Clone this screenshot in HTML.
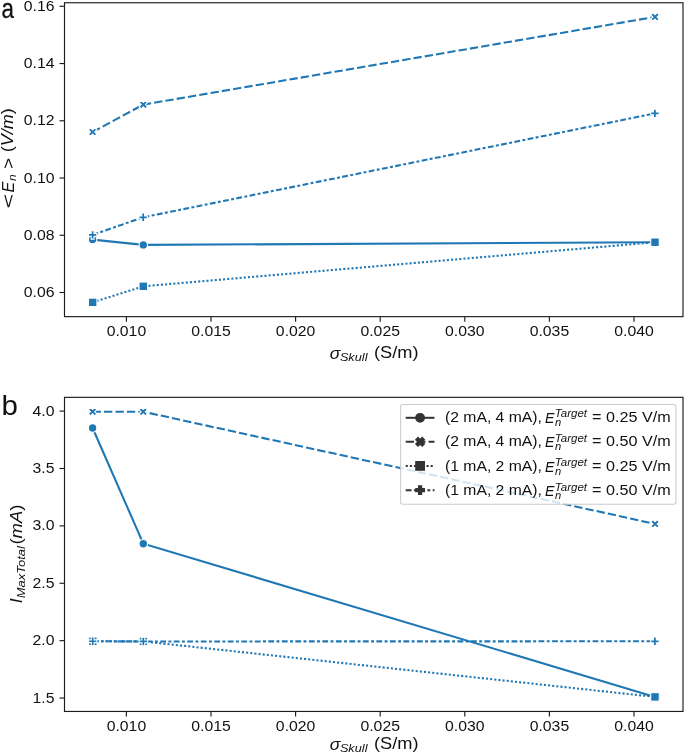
<!DOCTYPE html>
<html><head><meta charset="utf-8"><title>chart</title>
<style>html,body{margin:0;padding:0;background:#fff;overflow:hidden;}svg{display:block;will-change:transform;}</style>
</head><body>
<svg width="685" height="754" viewBox="0 0 685 754" font-family='"Liberation Sans", sans-serif' fill="#111111">
<defs><clipPath id="c1"><rect x="64.50" y="2.75" width="618.50" height="313.90"/></clipPath><clipPath id="c2"><rect x="64.50" y="397.35" width="618.50" height="314.10"/></clipPath></defs>
<rect width="685" height="754" fill="#fff"/>
<line x1="126.40" y1="316.65" x2="126.40" y2="321.65" stroke="#1c1c1c" stroke-width="1.15"/>
<line x1="211.00" y1="316.65" x2="211.00" y2="321.65" stroke="#1c1c1c" stroke-width="1.15"/>
<line x1="295.60" y1="316.65" x2="295.60" y2="321.65" stroke="#1c1c1c" stroke-width="1.15"/>
<line x1="380.20" y1="316.65" x2="380.20" y2="321.65" stroke="#1c1c1c" stroke-width="1.15"/>
<line x1="464.80" y1="316.65" x2="464.80" y2="321.65" stroke="#1c1c1c" stroke-width="1.15"/>
<line x1="549.40" y1="316.65" x2="549.40" y2="321.65" stroke="#1c1c1c" stroke-width="1.15"/>
<line x1="634.00" y1="316.65" x2="634.00" y2="321.65" stroke="#1c1c1c" stroke-width="1.15"/>
<line x1="59.50" y1="292.50" x2="64.50" y2="292.50" stroke="#1c1c1c" stroke-width="1.15"/>
<line x1="59.50" y1="235.26" x2="64.50" y2="235.26" stroke="#1c1c1c" stroke-width="1.15"/>
<line x1="59.50" y1="178.02" x2="64.50" y2="178.02" stroke="#1c1c1c" stroke-width="1.15"/>
<line x1="59.50" y1="120.78" x2="64.50" y2="120.78" stroke="#1c1c1c" stroke-width="1.15"/>
<line x1="59.50" y1="63.54" x2="64.50" y2="63.54" stroke="#1c1c1c" stroke-width="1.15"/>
<line x1="59.50" y1="6.30" x2="64.50" y2="6.30" stroke="#1c1c1c" stroke-width="1.15"/>
<line x1="126.40" y1="711.45" x2="126.40" y2="716.45" stroke="#1c1c1c" stroke-width="1.15"/>
<line x1="211.00" y1="711.45" x2="211.00" y2="716.45" stroke="#1c1c1c" stroke-width="1.15"/>
<line x1="295.60" y1="711.45" x2="295.60" y2="716.45" stroke="#1c1c1c" stroke-width="1.15"/>
<line x1="380.20" y1="711.45" x2="380.20" y2="716.45" stroke="#1c1c1c" stroke-width="1.15"/>
<line x1="464.80" y1="711.45" x2="464.80" y2="716.45" stroke="#1c1c1c" stroke-width="1.15"/>
<line x1="549.40" y1="711.45" x2="549.40" y2="716.45" stroke="#1c1c1c" stroke-width="1.15"/>
<line x1="634.00" y1="711.45" x2="634.00" y2="716.45" stroke="#1c1c1c" stroke-width="1.15"/>
<line x1="59.50" y1="698.05" x2="64.50" y2="698.05" stroke="#1c1c1c" stroke-width="1.15"/>
<line x1="59.50" y1="640.66" x2="64.50" y2="640.66" stroke="#1c1c1c" stroke-width="1.15"/>
<line x1="59.50" y1="583.27" x2="64.50" y2="583.27" stroke="#1c1c1c" stroke-width="1.15"/>
<line x1="59.50" y1="525.88" x2="64.50" y2="525.88" stroke="#1c1c1c" stroke-width="1.15"/>
<line x1="59.50" y1="468.49" x2="64.50" y2="468.49" stroke="#1c1c1c" stroke-width="1.15"/>
<line x1="59.50" y1="411.10" x2="64.50" y2="411.10" stroke="#1c1c1c" stroke-width="1.15"/>
<text transform="translate(126.40,336.02) scale(1.0748,1)" text-anchor="middle" font-size="14.70">0.010</text>
<text transform="translate(211.00,336.02) scale(1.0748,1)" text-anchor="middle" font-size="14.70">0.015</text>
<text transform="translate(295.60,336.02) scale(1.0748,1)" text-anchor="middle" font-size="14.70">0.020</text>
<text transform="translate(380.20,336.02) scale(1.0748,1)" text-anchor="middle" font-size="14.70">0.025</text>
<text transform="translate(464.80,336.02) scale(1.0748,1)" text-anchor="middle" font-size="14.70">0.030</text>
<text transform="translate(549.40,336.02) scale(1.0748,1)" text-anchor="middle" font-size="14.70">0.035</text>
<text transform="translate(634.00,336.02) scale(1.0748,1)" text-anchor="middle" font-size="14.70">0.040</text>
<text transform="translate(126.40,730.52) scale(1.0748,1)" text-anchor="middle" font-size="14.70">0.010</text>
<text transform="translate(211.00,730.52) scale(1.0748,1)" text-anchor="middle" font-size="14.70">0.015</text>
<text transform="translate(295.60,730.52) scale(1.0748,1)" text-anchor="middle" font-size="14.70">0.020</text>
<text transform="translate(380.20,730.52) scale(1.0748,1)" text-anchor="middle" font-size="14.70">0.025</text>
<text transform="translate(464.80,730.52) scale(1.0748,1)" text-anchor="middle" font-size="14.70">0.030</text>
<text transform="translate(549.40,730.52) scale(1.0748,1)" text-anchor="middle" font-size="14.70">0.035</text>
<text transform="translate(634.00,730.52) scale(1.0748,1)" text-anchor="middle" font-size="14.70">0.040</text>
<text transform="translate(54.50,297.07) scale(1.0748,1)" text-anchor="end" font-size="14.70">0.06</text>
<text transform="translate(54.50,239.83) scale(1.0748,1)" text-anchor="end" font-size="14.70">0.08</text>
<text transform="translate(54.50,182.59) scale(1.0748,1)" text-anchor="end" font-size="14.70">0.10</text>
<text transform="translate(54.50,125.35) scale(1.0748,1)" text-anchor="end" font-size="14.70">0.12</text>
<text transform="translate(54.50,68.11) scale(1.0748,1)" text-anchor="end" font-size="14.70">0.14</text>
<text transform="translate(54.50,10.87) scale(1.0748,1)" text-anchor="end" font-size="14.70">0.16</text>
<text transform="translate(54.50,702.62) scale(1.0748,1)" text-anchor="end" font-size="14.70">1.5</text>
<text transform="translate(54.50,645.23) scale(1.0748,1)" text-anchor="end" font-size="14.70">2.0</text>
<text transform="translate(54.50,587.84) scale(1.0748,1)" text-anchor="end" font-size="14.70">2.5</text>
<text transform="translate(54.50,530.45) scale(1.0748,1)" text-anchor="end" font-size="14.70">3.0</text>
<text transform="translate(54.50,473.06) scale(1.0748,1)" text-anchor="end" font-size="14.70">3.5</text>
<text transform="translate(54.50,415.67) scale(1.0748,1)" text-anchor="end" font-size="14.70">4.0</text>
<g clip-path="url(#c1)"><path d="M92.60,239.60 L143.30,244.90 L655.00,242.30" fill="none" stroke="#1f77b4" stroke-width="2.08"/>
<circle cx="92.60" cy="239.60" r="4.25" fill="#1f77b4" stroke="#fff" stroke-width="1.10"/>
<circle cx="143.30" cy="244.90" r="4.25" fill="#1f77b4" stroke="#fff" stroke-width="1.10"/>
<circle cx="655.00" cy="242.30" r="4.25" fill="#1f77b4" stroke="#fff" stroke-width="1.10"/>
<path d="M92.60,132.00 L143.30,104.60 L655.00,16.90" fill="none" stroke="#1f77b4" stroke-width="2.08" stroke-dasharray="8.32,3.12"/>
<path d="M90.47,127.75 L92.60,129.88 L94.72,127.75 L96.85,129.88 L94.72,132.00 L96.85,134.12 L94.72,136.25 L92.60,134.12 L90.47,136.25 L88.35,134.12 L90.47,132.00 L88.35,129.88 Z" fill="#1f77b4" stroke="#fff" stroke-width="1.10" stroke-linejoin="miter"/>
<path d="M141.18,100.35 L143.30,102.47 L145.43,100.35 L147.55,102.47 L145.43,104.60 L147.55,106.72 L145.43,108.85 L143.30,106.72 L141.18,108.85 L139.05,106.72 L141.18,104.60 L139.05,102.47 Z" fill="#1f77b4" stroke="#fff" stroke-width="1.10" stroke-linejoin="miter"/>
<path d="M652.88,12.65 L655.00,14.77 L657.12,12.65 L659.25,14.77 L657.12,16.90 L659.25,19.02 L657.12,21.15 L655.00,19.02 L652.88,21.15 L650.75,19.02 L652.88,16.90 L650.75,14.77 Z" fill="#1f77b4" stroke="#fff" stroke-width="1.10" stroke-linejoin="miter"/>
<path d="M92.70,302.35 L143.30,286.30 L655.00,242.25" fill="none" stroke="#1f77b4" stroke-width="2.08" stroke-dasharray="2.08,2.08"/>
<rect x="88.45" y="298.10" width="8.50" height="8.50" fill="#1f77b4" stroke="#fff" stroke-width="1.10"/>
<rect x="139.05" y="282.05" width="8.50" height="8.50" fill="#1f77b4" stroke="#fff" stroke-width="1.10"/>
<rect x="650.75" y="238.00" width="8.50" height="8.50" fill="#1f77b4" stroke="#fff" stroke-width="1.10"/>
<path d="M92.60,234.90 L143.20,217.30 L654.90,113.40" fill="none" stroke="#1f77b4" stroke-width="2.08" stroke-dasharray="5.79,2.41,2.90,2.41"/>
<path d="M91.18,230.65 L94.02,230.65 L94.02,233.48 L96.85,233.48 L96.85,236.32 L94.02,236.32 L94.02,239.15 L91.18,239.15 L91.18,236.32 L88.35,236.32 L88.35,233.48 L91.18,233.48 Z" fill="#1f77b4" stroke="#fff" stroke-width="1.10" stroke-linejoin="miter"/>
<path d="M141.78,213.05 L144.62,213.05 L144.62,215.88 L147.45,215.88 L147.45,218.72 L144.62,218.72 L144.62,221.55 L141.78,221.55 L141.78,218.72 L138.95,218.72 L138.95,215.88 L141.78,215.88 Z" fill="#1f77b4" stroke="#fff" stroke-width="1.10" stroke-linejoin="miter"/>
<path d="M653.48,109.15 L656.32,109.15 L656.32,111.98 L659.15,111.98 L659.15,114.82 L656.32,114.82 L656.32,117.65 L653.48,117.65 L653.48,114.82 L650.65,114.82 L650.65,111.98 L653.48,111.98 Z" fill="#1f77b4" stroke="#fff" stroke-width="1.10" stroke-linejoin="miter"/></g>
<rect x="64.50" y="2.75" width="618.50" height="313.90" fill="none" stroke="#1c1c1c" stroke-width="1.15"/>
<g clip-path="url(#c2)"><path d="M92.60,428.00 L143.30,543.70 L655.00,696.90" fill="none" stroke="#1f77b4" stroke-width="2.08"/>
<circle cx="92.60" cy="428.00" r="4.25" fill="#1f77b4" stroke="#fff" stroke-width="1.10"/>
<circle cx="143.30" cy="543.70" r="4.25" fill="#1f77b4" stroke="#fff" stroke-width="1.10"/>
<circle cx="655.00" cy="696.90" r="4.25" fill="#1f77b4" stroke="#fff" stroke-width="1.10"/>
<path d="M92.60,411.70 L143.20,411.70 L655.00,523.90" fill="none" stroke="#1f77b4" stroke-width="2.08" stroke-dasharray="8.32,3.12"/>
<path d="M90.47,407.45 L92.60,409.57 L94.72,407.45 L96.85,409.57 L94.72,411.70 L96.85,413.82 L94.72,415.95 L92.60,413.82 L90.47,415.95 L88.35,413.82 L90.47,411.70 L88.35,409.57 Z" fill="#1f77b4" stroke="#fff" stroke-width="1.10" stroke-linejoin="miter"/>
<path d="M141.07,407.45 L143.20,409.57 L145.32,407.45 L147.45,409.57 L145.32,411.70 L147.45,413.82 L145.32,415.95 L143.20,413.82 L141.07,415.95 L138.95,413.82 L141.07,411.70 L138.95,409.57 Z" fill="#1f77b4" stroke="#fff" stroke-width="1.10" stroke-linejoin="miter"/>
<path d="M652.88,519.65 L655.00,521.77 L657.12,519.65 L659.25,521.77 L657.12,523.90 L659.25,526.02 L657.12,528.15 L655.00,526.02 L652.88,528.15 L650.75,526.02 L652.88,523.90 L650.75,521.77 Z" fill="#1f77b4" stroke="#fff" stroke-width="1.10" stroke-linejoin="miter"/>
<path d="M92.80,641.25 L143.40,641.45 L655.00,696.90" fill="none" stroke="#1f77b4" stroke-width="2.08" stroke-dasharray="2.08,2.08"/>
<rect x="88.55" y="637.00" width="8.50" height="8.50" fill="#1f77b4" stroke="#fff" stroke-width="1.10"/>
<rect x="139.15" y="637.20" width="8.50" height="8.50" fill="#1f77b4" stroke="#fff" stroke-width="1.10"/>
<rect x="650.75" y="692.65" width="8.50" height="8.50" fill="#1f77b4" stroke="#fff" stroke-width="1.10"/>
<path d="M92.70,641.25 L143.35,641.45 L654.90,641.30" fill="none" stroke="#1f77b4" stroke-width="2.08" stroke-dasharray="5.79,2.41,2.90,2.41"/>
<path d="M91.28,637.00 L94.12,637.00 L94.12,639.83 L96.95,639.83 L96.95,642.67 L94.12,642.67 L94.12,645.50 L91.28,645.50 L91.28,642.67 L88.45,642.67 L88.45,639.83 L91.28,639.83 Z" fill="#1f77b4" stroke="#fff" stroke-width="1.10" stroke-linejoin="miter"/>
<path d="M141.93,637.20 L144.77,637.20 L144.77,640.03 L147.60,640.03 L147.60,642.87 L144.77,642.87 L144.77,645.70 L141.93,645.70 L141.93,642.87 L139.10,642.87 L139.10,640.03 L141.93,640.03 Z" fill="#1f77b4" stroke="#fff" stroke-width="1.10" stroke-linejoin="miter"/>
<path d="M653.48,637.05 L656.32,637.05 L656.32,639.88 L659.15,639.88 L659.15,642.72 L656.32,642.72 L656.32,645.55 L653.48,645.55 L653.48,642.72 L650.65,642.72 L650.65,639.88 L653.48,639.88 Z" fill="#1f77b4" stroke="#fff" stroke-width="1.10" stroke-linejoin="miter"/></g>
<rect x="400.60" y="404.50" width="275.30" height="99.70" rx="2.2" fill="#fff" fill-opacity="0.8" stroke="#cccccc" stroke-width="1.1"/>
<path d="M405.7,417.80 L434.5,417.80" stroke="#333333" stroke-width="2.0" fill="none"/>
<circle cx="420.10" cy="417.80" r="4.20" fill="#333333" stroke="#333333" stroke-width="1.40"/>
<path d="M405.7,441.80 L434.5,441.80" stroke="#333333" stroke-width="2.0" fill="none" stroke-dasharray="8.32,3.12"/>
<path d="M418.00,437.60 L420.10,439.70 L422.20,437.60 L424.30,439.70 L422.20,441.80 L424.30,443.90 L422.20,446.00 L420.10,443.90 L418.00,446.00 L415.90,443.90 L418.00,441.80 L415.90,439.70 Z" fill="#333333" stroke="#333333" stroke-width="1.40" stroke-linejoin="miter"/>
<path d="M405.7,465.90 L434.5,465.90" stroke="#333333" stroke-width="2.0" fill="none" stroke-dasharray="2.08,2.08"/>
<rect x="415.90" y="461.70" width="8.40" height="8.40" fill="#333333" stroke="#333333" stroke-width="1.40"/>
<path d="M405.7,490.20 L434.5,490.20" stroke="#333333" stroke-width="2.0" fill="none" stroke-dasharray="5.79,2.41,2.90,2.41"/>
<path d="M418.70,486.00 L421.50,486.00 L421.50,488.80 L424.30,488.80 L424.30,491.60 L421.50,491.60 L421.50,494.40 L418.70,494.40 L418.70,491.60 L415.90,491.60 L415.90,488.80 L418.70,488.80 Z" fill="#333333" stroke="#333333" stroke-width="1.40" stroke-linejoin="miter"/>
<rect x="64.50" y="397.35" width="618.50" height="314.10" fill="none" stroke="#1c1c1c" stroke-width="1.15"/>
<text transform="translate(1.55,17.65) scale(0.7967,1.0000)" font-size="28.00" stroke="#111" stroke-width="0.3">a</text>
<text transform="translate(1.62,414.90) scale(1.0917,1.0250)" font-size="27.00">b</text>
<text transform="translate(329.80,358.80) scale(1.1000,1.0000)" font-size="15.80"><tspan font-style="italic">σ</tspan></text>
<text transform="translate(339.88,360.50) scale(1.1167,1.0000)" font-size="11.40"><tspan font-style="italic">Skull</tspan></text>
<text transform="translate(373.95,357.80) scale(1.1541,1.0000)" font-size="15.80">(S/m)</text>
<text transform="translate(329.80,750.30) scale(1.1000,1.0000)" font-size="15.80"><tspan font-style="italic">σ</tspan></text>
<text transform="translate(339.88,752.00) scale(1.1167,1.0000)" font-size="11.40"><tspan font-style="italic">Skull</tspan></text>
<text transform="translate(373.95,749.30) scale(1.1541,1.0000)" font-size="15.80">(S/m)</text>
<g transform="translate(12.80,0) rotate(-90)"><text transform="translate(-208.50,1.25) scale(1.6000,1.0000)" font-size="15.80">&lt;</text></g>
<g transform="translate(12.80,0) rotate(-90)"><text transform="translate(-192.52,1.10) scale(1.0200,1.0000)" font-size="15.80"><tspan font-style="italic">E</tspan></text></g>
<g transform="translate(12.80,0) rotate(-90)"><text transform="translate(-180.90,3.65) scale(1.1200,1.0000)" font-size="10.60"><tspan font-style="italic">n</tspan></text></g>
<g transform="translate(12.80,0) rotate(-90)"><text transform="translate(-169.03,1.05) scale(1.2250,1.0000)" font-size="15.80">&gt;</text></g>
<g transform="translate(12.80,0) rotate(-90)"><text transform="translate(-152.24,0.25) scale(1.1432,1.0000)" font-size="15.80">(<tspan font-style="italic">V/m</tspan>)</text></g>
<g transform="translate(21.70,0) rotate(-90)"><text transform="translate(-603.25,0.25) scale(1.1000,1.0000)" font-size="15.80"><tspan font-style="italic">I</tspan></text></g>
<g transform="translate(21.70,0) rotate(-90)"><text transform="translate(-598.14,3.00) scale(1.1444,1.0000)" font-size="11.30"><tspan font-style="italic">MaxTotal</tspan></text></g>
<g transform="translate(21.70,0) rotate(-90)"><text transform="translate(-544.57,-0.05) scale(1.1687,1.0000)" font-size="15.80">(<tspan font-style="italic">mA</tspan>)</text></g>
<text transform="translate(445.00,421.60) scale(1.0988,1.0000)" font-size="14.30">(2 mA, 4 mA),</text>
<text transform="translate(545.01,422.55) scale(0.9889,1.0000)" font-size="14.30"><tspan font-style="italic">E</tspan></text>
<text transform="translate(554.90,425.60) scale(1.1200,1.0000)" font-size="10.00"><tspan font-style="italic">n</tspan></text>
<text transform="translate(554.85,417.40) scale(1.1519,1.0000)" font-size="10.00"><tspan font-style="italic">Target</tspan></text>
<text transform="translate(592.07,421.60) scale(1.1309,1.0000)" font-size="14.30">= 0.25 V/m</text>
<text transform="translate(445.00,446.20) scale(1.0988,1.0000)" font-size="14.30">(2 mA, 4 mA),</text>
<text transform="translate(545.01,447.15) scale(0.9889,1.0000)" font-size="14.30"><tspan font-style="italic">E</tspan></text>
<text transform="translate(554.90,450.20) scale(1.1200,1.0000)" font-size="10.00"><tspan font-style="italic">n</tspan></text>
<text transform="translate(554.85,442.00) scale(1.1519,1.0000)" font-size="10.00"><tspan font-style="italic">Target</tspan></text>
<text transform="translate(592.07,446.20) scale(1.1309,1.0000)" font-size="14.30">= 0.50 V/m</text>
<text transform="translate(445.00,470.60) scale(1.0988,1.0000)" font-size="14.30">(1 mA, 2 mA),</text>
<text transform="translate(545.01,471.55) scale(0.9889,1.0000)" font-size="14.30"><tspan font-style="italic">E</tspan></text>
<text transform="translate(554.90,474.60) scale(1.1200,1.0000)" font-size="10.00"><tspan font-style="italic">n</tspan></text>
<text transform="translate(554.85,466.40) scale(1.1519,1.0000)" font-size="10.00"><tspan font-style="italic">Target</tspan></text>
<text transform="translate(592.07,470.60) scale(1.1309,1.0000)" font-size="14.30">= 0.25 V/m</text>
<text transform="translate(445.00,494.80) scale(1.0988,1.0000)" font-size="14.30">(1 mA, 2 mA),</text>
<text transform="translate(545.01,495.75) scale(0.9889,1.0000)" font-size="14.30"><tspan font-style="italic">E</tspan></text>
<text transform="translate(554.90,498.80) scale(1.1200,1.0000)" font-size="10.00"><tspan font-style="italic">n</tspan></text>
<text transform="translate(554.85,490.60) scale(1.1519,1.0000)" font-size="10.00"><tspan font-style="italic">Target</tspan></text>
<text transform="translate(592.07,494.80) scale(1.1309,1.0000)" font-size="14.30">= 0.50 V/m</text>
</svg>
</body></html>
